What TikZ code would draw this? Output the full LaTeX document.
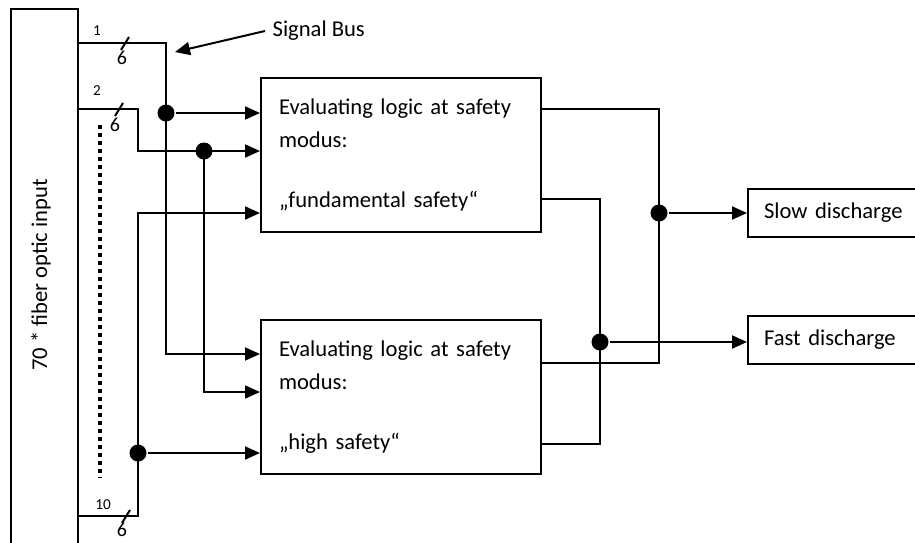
\documentclass[tikz,border=0pt]{standalone}
\usepackage{fontspec}
\setmainfont{Carlito}
\usetikzlibrary{arrows.meta}

\begin{document}
\begin{tikzpicture}[> = {Triangle[length=7.5pt,width=6.5pt]}, line width = 1pt, x = 0.5pt, y = -0.5pt,
		logic/.style = {draw, minimum width=140pt, minimum height=77pt, inner xsep=9pt, text width=122pt, align=left, font=\fontsize{11.3}{16.5}\selectfont},
		result/.style = {draw, anchor=west, minimum height=24pt, inner xsep=8pt, text width=100pt, align=left, font=\fontsize{11.3}{13.6}\selectfont},
		dot/.style = {circle, fill, inner sep=0pt, minimum size=8.5pt},
		num/.style = {font=\fontsize{7.6}{9}\selectfont, inner sep=0pt},
		width/.style = {font=\fontsize{10}{12}\selectfont, inner sep=0pt}]
		\clip (0,0) rectangle (915,542);
		\node[draw, anchor=north west, minimum width=33.5pt, minimum height=280pt] (fiber) at (10,8) {};
		\node[rotate=90, font=\fontsize{11.3}{13.6}\selectfont] (fibertext) at (41,275) {70 * fiber optic input};
		\node[logic] (fund) at (401,155) {Evaluating logic at safety\\modus:\\[13.5pt]„fundamental safety“};
		\node[logic] (high) at (401,397) {Evaluating logic at safety\\modus:\\[13.5pt]„high safety“};
		\node[result] (slow) at (747,213) {Slow discharge};
		\node[result] (fast) at (747,340) {Fast discharge};
		\node[anchor=west, font=\fontsize{11.3}{13.6}\selectfont] (bus) at (265,31) {Signal Bus};
		\coordinate (bustip) at (175,52);
		\draw[->] (bus.west) -- (bustip);
		\node[num] (n1) at (97,31) {1};
		\node[num] (n2) at (97,91) {2};
		\node[num] (n10) at (103,505) {10};
		\node[width] (s1) at (122,58) {6};
		\node[width] (s2) at (115,125) {6};
		\node[width] (s10) at (122,530) {6};
		\foreach \x/\y in {125/43, 119/109, 126/516}
			\draw (\x,\y) ++(-4,7) -- ++(8,-13);
		\draw[line width=2.2pt, dash pattern=on 2pt off 2pt] (100,125) -- (100,478);
		\node[dot] (d1) at (166,113) {};
		\node[dot] (d2) at (204,151) {};
		\node[dot] (d3) at (138,453) {};
		\node[dot] (d4) at (659,213) {};
		\node[dot] (d5) at (600,342) {};
		\draw[->] (fiber.east |- 0,43) -| (d1.center) |- (high.west |- 0,354);
		\draw[->] (d1) -- (fund.west |- d1);
		\draw[->] (fiber.east |- 0,109) -| (138,151) -- (fund.west |- d2);
		\draw[->] (d2.center) |- (high.west |- 0,392);
		\draw[->] (fiber.east |- 0,516) -| (d3.center) |- (fund.west |- 0,213);
		\draw[->] (d3) -- (high.west |- d3);
		\draw (fund.east |- 0,109) -| (d4.center) |- (high.east |- 0,363);
		\draw[->] (d4) -- (slow.west);
		\draw (fund.east |- 0,199) -| (d5.center) |- (high.east |- 0,444);
		\draw[->] (d5) -- (fast.west |- d5);
	\end{tikzpicture}
\end{document}
